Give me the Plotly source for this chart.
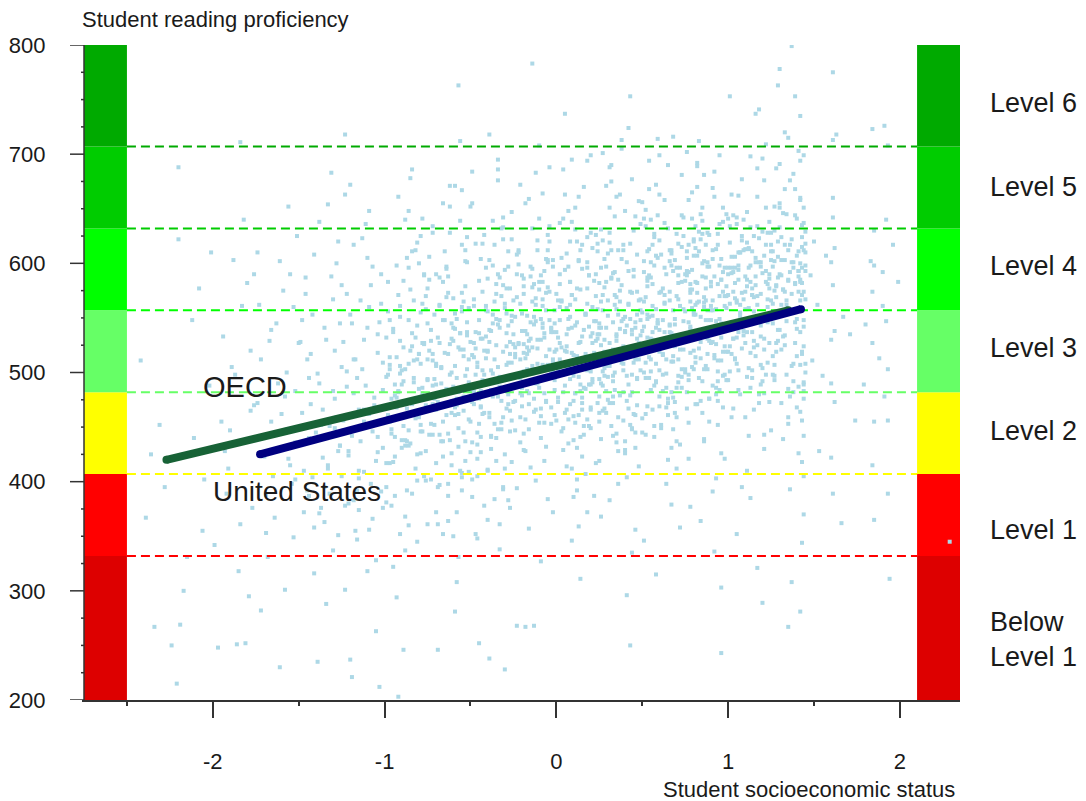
import plotly.graph_objects as go

# ---- Student scatter: socioeconomic status index vs reading score ----
ses = [
    -2.39, -2.34, -2.21, -2.24, -2.19, -2.20, -2.20, -2.42, -2.31, -2.12,
    -2.05, -2.15, -2.08, -2.28, -2.02, -2.11, -2.36, -2.06, -2.17, -2.01,
    -1.97, -1.86, -1.81, -1.84, -1.95, -1.78, -1.92, -1.88, -1.76, -1.99,
    -1.83, -1.91, -1.79, -1.87, -1.94, -1.77, -1.82, -1.90, -1.85, -1.80,
    -1.93, -1.78, -1.89, -1.84, -1.76,
    -1.61, -1.72, -1.66, -1.55, -1.69, -1.58, -1.74, -1.63, -1.52, -1.68,
    -1.57, -1.70, -1.64, -1.51, -1.73, -1.60, -1.54, -1.67, -1.59, -1.53,
    -1.71, -1.56, -1.62, -1.50, -1.65, -1.58, -1.74, -1.53, -1.69, -1.61,
    -1.55, -1.66, -1.52, -1.72, -1.57,
    -1.39, -1.45, -1.31, -1.48, -1.27, -1.42, -1.35, -1.29, -1.47, -1.33,
    -1.26, -1.44, -1.37, -1.30, -1.49, -1.41, -1.28, -1.36, -1.46, -1.32,
    -1.43, -1.34, -1.27, -1.40, -1.25, -1.38, -1.47, -1.30, -1.35, -1.42,
    -1.28, -1.46, -1.33, -1.39, -1.26, -1.44, -1.31, -1.37, -1.29, -1.48,
    -1.34, -1.41, -1.27, -1.45, -1.36, -1.30, -1.43, -1.25, -1.38, -1.32,
    -1.23, -1.23, -1.20, -1.19, -1.03, -1.05, -1.12, -1.17, -1.08, -1.22,
    -1.14, -1.01, -1.24, -1.10, -1.16, -1.06, -1.19, -1.02, -1.13, -1.21,
    -1.09, -1.18, -1.04, -1.15, -1.11, -1.24, -1.07, -1.20, -1.01, -1.13,
    -1.16, -1.05, -1.22, -1.10, -1.18, -1.03, -1.14, -1.08, -1.25, -1.12,
    -1.02, -1.19, -1.06, -1.23, -1.11, -1.15, -1.04, -1.21, -1.09, -1.17,
    -1.07, -1.13, -1.01, -1.20, -1.16, -1.10, -1.24, -1.05, -1.18, -1.12,
    -1.04, -1.22, -1.09, -1.15, -1.02,
    -0.92, -0.89, -0.84, -0.85, -0.97, -0.81, -0.93, -0.78, -0.88, -0.95,
    -0.76, -0.99, -0.83, -0.90, -0.79, -0.96, -0.86, -0.77, -0.94, -0.82,
    -0.98, -0.80, -0.87, -0.91, -0.75, -0.84, -0.96, -0.78, -0.89, -0.93,
    -0.81, -0.97, -0.85, -0.76, -0.92, -0.88, -0.79, -0.95, -0.83, -0.99,
    -0.86, -0.77, -0.94, -0.80, -0.90, -0.82, -0.98, -0.87, -0.76, -0.91,
    -0.84, -0.95, -0.78, -0.89, -0.81, -0.93, -0.86, -0.97, -0.79, -0.88,
    -0.83, -0.91, -0.77, -0.96, -0.85, -0.80, -0.94, -0.87, -0.75, -0.90,
    -0.82, -0.98, -0.88, -0.78, -0.92, -0.84, -0.99, -0.76, -0.86, -0.93,
    -0.69, -0.57, -0.56, -0.72, -0.61, -0.66, -0.53, -0.70, -0.58, -0.64,
    -0.51, -0.74, -0.62, -0.68, -0.55, -0.60, -0.73, -0.52, -0.67, -0.59,
    -0.54, -0.71, -0.63, -0.50, -0.65, -0.57, -0.74, -0.61, -0.53, -0.69,
    -0.58, -0.66, -0.52, -0.72, -0.60, -0.55, -0.68, -0.63, -0.51, -0.70,
    -0.64, -0.56, -0.73, -0.59, -0.50, -0.67, -0.62, -0.54, -0.71, -0.57,
    -0.61, -0.75, -0.53, -0.66, -0.58, -0.70, -0.52, -0.64, -0.55, -0.68,
    -0.60, -0.72, -0.56, -0.63, -0.51, -0.69, -0.59, -0.74, -0.54, -0.65,
    -0.57, -0.62, -0.68, -0.53, -0.71, -0.60, -0.66, -0.52, -0.58, -0.73,
    -0.55, -0.64, -0.50, -0.67, -0.61, -0.56, -0.70, -0.63, -0.54, -0.59,
    -0.45, -0.39, -0.30, -0.39, -0.47, -0.33, -0.42, -0.27, -0.36, -0.49,
    -0.28, -0.44, -0.35, -0.48, -0.31, -0.40, -0.26, -0.46, -0.34, -0.29,
    -0.41, -0.32, -0.47, -0.25, -0.38, -0.43, -0.30, -0.49, -0.35, -0.27,
    -0.44, -0.33, -0.40, -0.28, -0.46, -0.37, -0.31, -0.42, -0.26, -0.48,
    -0.36, -0.29, -0.45, -0.34, -0.41, -0.27, -0.39, -0.32, -0.47, -0.30,
    -0.43, -0.25, -0.38, -0.49, -0.35, -0.30, -0.44, -0.28, -0.40, -0.33,
    -0.37, -0.46, -0.31, -0.42, -0.26, -0.48, -0.34, -0.39, -0.29, -0.45,
    -0.32, -0.40, -0.27, -0.47, -0.36, -0.43, -0.28, -0.38, -0.50, -0.31,
    -0.41, -0.35, -0.46, -0.29, -0.44, -0.33, -0.26, -0.37, -0.42, -0.30,
    -0.34, -0.48, -0.27, -0.39, -0.45,
    -0.23, -0.18, -0.13, -0.14, -0.21, -0.06, -0.16, -0.02, -0.11, -0.24,
    -0.08, -0.19, -0.03, -0.14, -0.22, -0.09, -0.01, -0.17, -0.05, -0.12,
    -0.20, -0.07, -0.15, -0.25, -0.04, -0.10, -0.18, -0.02, -0.13, -0.23,
    -0.06, -0.16, -0.09, -0.21, -0.01, -0.12, -0.24, -0.04, -0.17, -0.08,
    -0.14, -0.03, -0.19, -0.11, -0.22, -0.05, -0.15, -0.07, -0.20, -0.10,
    -0.02, -0.18, -0.13, -0.25, -0.06, -0.09, -0.21, -0.04, -0.16, -0.11,
    -0.23, -0.08, -0.01, -0.14, -0.19, -0.03, -0.12, -0.24, -0.07, -0.17,
    -0.10, -0.05, -0.20, -0.15, -0.02, -0.22, -0.09, -0.13, -0.18, -0.06,
    -0.12, -0.21, -0.04, -0.16, -0.08, -0.24, -0.01, -0.11, -0.19, -0.03,
    -0.15, -0.07, -0.22, -0.10, -0.17, -0.05, -0.14, -0.20, -0.02, -0.09,
    0.03, 0.11, 0.18, 0.07, 0.22, 0.14, 0.01, 0.20, 0.09, 0.16,
    0.05, 0.24, 0.12, 0.02, 0.19, 0.08, 0.15, 0.23, 0.04, 0.10,
    0.17, 0.06, 0.21, 0.13, 0.00, 0.25, 0.09, 0.18, 0.03, 0.14,
    0.20, 0.11, 0.04, 0.22, 0.07, 0.16, 0.01, 0.24, 0.12, 0.08,
    0.15, 0.02, 0.19, 0.10, 0.23, 0.05, 0.13, 0.21, 0.06, 0.17,
    0.09, 0.25, 0.03, 0.14, 0.20, 0.11, 0.07, 0.18, 0.00, 0.22,
    0.12, 0.04, 0.16, 0.24, 0.08, 0.19, 0.02, 0.13, 0.21, 0.06,
    0.17, 0.10, 0.23, 0.01, 0.15, 0.05, 0.20, 0.09, 0.14, 0.03,
    0.22, 0.07, 0.18, 0.12, 0.25, 0.04, 0.16, 0.10, 0.19, 0.08,
    0.13, 0.21, 0.02, 0.17, 0.06, 0.23, 0.11, 0.15, 0.00, 0.20,
    0.05, 0.14, 0.24, 0.09, 0.18,
    0.43, 0.43, 0.42, 0.38, 0.31, 0.47, 0.27, 0.36, 0.44, 0.29,
    0.40, 0.26, 0.49, 0.33, 0.45, 0.28, 0.37, 0.48, 0.32, 0.41,
    0.35, 0.46, 0.30, 0.39, 0.27, 0.44, 0.34, 0.49, 0.26, 0.42,
    0.31, 0.38, 0.47, 0.28, 0.36, 0.43, 0.33, 0.40, 0.25, 0.45,
    0.29, 0.41, 0.34, 0.48, 0.26, 0.37, 0.46, 0.32, 0.39, 0.30,
    0.44, 0.27, 0.35, 0.49, 0.31, 0.42, 0.38, 0.28, 0.47, 0.33,
    0.40, 0.36, 0.45, 0.29, 0.43, 0.32, 0.48, 0.26, 0.39, 0.34,
    0.30, 0.47, 0.37, 0.25, 0.41, 0.35, 0.44, 0.28, 0.46, 0.31,
    0.38, 0.27, 0.42, 0.33, 0.49, 0.36, 0.29, 0.45, 0.32, 0.40,
    0.34, 0.48, 0.26, 0.43, 0.30, 0.39, 0.46, 0.37, 0.28, 0.44,
    0.31, 0.41, 0.35, 0.47, 0.27,
    0.68, 0.59, 0.53, 0.71, 0.62, 0.56, 0.74, 0.65, 0.51, 0.69,
    0.58, 0.64, 0.52, 0.73, 0.60, 0.55, 0.67, 0.70, 0.54, 0.63,
    0.57, 0.72, 0.61, 0.50, 0.66, 0.53, 0.75, 0.59, 0.64, 0.56,
    0.70, 0.52, 0.67, 0.58, 0.74, 0.62, 0.55, 0.69, 0.60, 0.51,
    0.65, 0.57, 0.72, 0.54, 0.63, 0.68, 0.50, 0.61, 0.73, 0.56,
    0.59, 0.66, 0.53, 0.71, 0.60, 0.75, 0.64, 0.52, 0.69, 0.58,
    0.62, 0.55, 0.73, 0.57, 0.67, 0.51, 0.70, 0.63, 0.54, 0.74,
    0.56, 0.68, 0.60, 0.65, 0.53, 0.72, 0.58, 0.66, 0.50, 0.61,
    0.64, 0.52, 0.71, 0.57, 0.69, 0.55, 0.74, 0.62, 0.59, 0.67,
    0.54, 0.63, 0.70, 0.56, 0.60, 0.73, 0.51, 0.66, 0.58, 0.68,
    0.61, 0.53, 0.72, 0.65, 0.57,
    0.96, 0.78, 0.84, 0.91, 0.77, 0.88, 0.95, 0.81, 0.99, 0.86,
    0.93, 0.76, 0.89, 0.82, 0.97, 0.79, 0.85, 0.92, 0.80, 0.98,
    0.87, 0.94, 0.78, 0.83, 0.90, 0.76, 0.96, 0.81, 0.88, 0.84,
    0.91, 0.79, 0.99, 0.85, 0.77, 0.93, 0.82, 0.97, 0.80, 0.89,
    0.86, 0.95, 0.78, 0.92, 0.83, 0.98, 0.76, 0.87, 0.94, 0.81,
    0.90, 0.84, 0.97, 0.79, 0.88, 0.93, 0.82, 0.96, 0.77, 0.85,
    0.99, 0.80, 0.91, 0.86, 0.78, 0.95, 0.83, 0.89, 0.76, 0.92,
    0.87, 0.94, 0.81, 0.98, 0.84, 0.90, 0.77, 0.96, 0.82, 0.88,
    0.93, 0.79, 0.85, 0.97, 0.80, 0.91, 0.86, 0.99, 0.78, 0.94,
    0.83, 0.89, 0.76, 0.92, 0.87, 0.95, 0.81, 0.98, 0.84, 0.90,
    0.88, 0.82, 0.96, 0.79, 0.93,
    1.01, 1.18, 1.16, 1.20, 1.07, 1.13, 1.03, 1.22, 1.10, 1.05,
    1.15, 1.24, 1.08, 1.02, 1.19, 1.11, 1.06, 1.23, 1.14, 1.09,
    1.04, 1.21, 1.12, 1.17, 1.00, 1.25, 1.09, 1.14, 1.06, 1.19,
    1.23, 1.07, 1.16, 1.02, 1.11, 1.20, 1.05, 1.13, 1.24, 1.08,
    1.18, 1.01, 1.10, 1.22, 1.15, 1.03, 1.12, 1.21, 1.06, 1.17,
    1.09, 1.24, 1.04, 1.14, 1.19, 1.07, 1.11, 1.23, 1.00, 1.16,
    1.13, 1.05, 1.20, 1.08, 1.25, 1.02, 1.18, 1.10, 1.15, 1.22,
    1.06, 1.12, 1.24, 1.01, 1.17, 1.09, 1.21, 1.04, 1.14, 1.19,
    1.11, 1.23, 1.03, 1.16, 1.07, 1.20, 1.13, 1.00, 1.18, 1.10,
    1.05, 1.15, 1.22, 1.08, 1.12, 1.25, 1.02, 1.17, 1.14, 1.06,
    1.37, 1.30, 1.29, 1.39, 1.35, 1.42, 1.27, 1.44, 1.33, 1.40,
    1.26, 1.43, 1.31, 1.38, 1.28, 1.45, 1.34, 1.41, 1.32, 1.44,
    1.36, 1.29, 1.42, 1.27, 1.39, 1.44, 1.33, 1.30, 1.43, 1.37,
    1.25, 1.40, 1.35, 1.43, 1.28, 1.41, 1.32, 1.45, 1.38, 1.26,
    1.42, 1.34, 1.44, 1.31, 1.39, 1.27, 1.43, 1.36, 1.29, 1.45,
    1.33, 1.41, 1.37, 1.44, 1.26, 1.40, 1.30, 1.43, 1.35, 1.42,
    1.28, 1.38, 1.45, 1.32, 1.44, 1.34, 1.41, 1.27, 1.43, 1.39,
    1.36, 1.42, 1.29, 1.44, 1.31, 1.40, 1.45, 1.33, 1.43, 1.37,
    1.41, 1.26, 1.44, 1.35, 1.42,
    1.61, 1.63, 1.61, 1.52, 1.61, 1.60, 1.48, 1.62, 1.55, 1.61,
    1.50, 1.60, 1.67, 1.62, 1.53, 1.61, 1.71, 1.60, 1.49, 1.62,
    1.57, 1.61, 1.74, 1.60, 1.66,
    1.84, 1.91, 1.93, 1.94, 1.85, 1.90, 1.84, 1.92, 1.79, 1.85,
    1.90, 1.93, 1.84, 1.96, 1.91, 1.85, 1.80, 1.93, 1.88, 1.84,
    1.92, 1.85, 1.99, 1.93, 1.83,
    2.29,
]

score = [
    367, 267, 215, 250, 269, 688, 622, 511, 452, 548,
    402, 331, 577, 395, 488, 440, 425, 355, 300, 610,
    248, 251, 252, 711, 455, 520, 389, 603, 470, 342,
    561, 412, 295, 498, 533, 376, 640, 447, 318, 582,
    428, 465, 505, 361, 590,
    230, 512, 455, 590, 388, 478, 610, 545, 436, 331,
    500, 423, 367, 625, 562, 462, 398, 529, 575, 349,
    441, 652, 490, 527, 405, 301, 472, 560, 353, 602,
    415, 539, 483, 282, 448,
    235, 512, 588, 463, 620, 404, 541, 476, 372, 654,
    433, 495, 452, 567, 528, 316, 600, 422, 587, 389,
    471, 530, 351, 445, 505, 638, 410, 483, 363, 553,
    459, 572, 415, 499, 545, 440, 683, 376, 520, 548,
    288, 608, 428, 392, 466, 337, 517, 580, 490, 451,
    718, 663, 237, 221, 212, 263, 455, 512, 398, 487,
    566, 431, 528, 605, 347, 470, 442, 590, 503, 380,
    462, 617, 535, 410, 488, 456, 366, 553, 509, 623,
    495, 419, 572, 318, 481, 546, 437, 580, 405, 530,
    391, 545, 477, 301, 636, 466, 518, 424, 560, 355,
    597, 450, 484, 672, 392, 541, 447, 328, 512, 466,
    427, 501, 648, 374, 563,
    203, 246, 686, 678, 455, 512, 598, 481, 433, 540,
    470, 395, 566, 502, 625, 448, 360, 527, 489, 412,
    583, 459, 437, 551, 494, 611, 378, 446, 523, 468,
    345, 507, 576, 428, 483, 640, 555, 418, 495, 532,
    462, 589, 387, 517, 438, 474, 556, 605, 401, 499,
    536, 322, 466, 584, 425, 477, 648, 514, 452, 368,
    491, 561, 405, 444, 520, 600, 479, 392, 545, 431,
    458, 498, 337, 527, 661, 472, 417, 570, 508, 294,
    246, 763, 712, 488, 531, 455, 602, 417, 470, 569,
    512, 443, 498, 587, 392, 541, 479, 624, 437, 506,
    465, 553, 387, 528, 611, 449, 520, 474, 579, 361,
    495, 423, 546, 634, 482, 408, 561, 517, 457, 489,
    595, 536, 402, 468, 652, 504, 438, 565, 476, 331,
    426, 512, 484, 548, 372, 590, 503, 461, 617, 443,
    529, 471, 410, 573, 491, 395, 554, 606, 445, 518,
    462, 671, 527, 419, 494, 350, 583, 537, 308, 453,
    560, 485, 427, 471, 545, 639, 508, 398, 521, 281,
    252, 238, 228, 718, 498, 541, 463, 577, 512, 436,
    480, 604, 525, 471, 393, 556, 509, 421, 590, 467,
    533, 454, 618, 497, 442, 574, 486, 402, 549, 528,
    469, 587, 411, 543, 505, 478, 633, 520, 456, 561,
    384, 507, 548, 448, 596, 517, 463, 570, 489, 425,
    531, 473, 502, 655, 440, 559, 483, 611, 365, 496,
    545, 434, 580, 490, 418, 527, 676, 459, 536, 584,
    474, 519, 446, 352, 565, 502, 597, 430, 484, 642,
    557, 491, 405, 524, 468, 338, 552, 499, 626, 412,
    695, 514, 376, 539, 453,
    268, 267, 268, 783, 512, 557, 481, 603, 530, 447,
    494, 586, 468, 523, 612, 440, 545, 503, 578, 466,
    538, 419, 597, 488, 521, 641, 457, 509, 551, 394,
    473, 529, 589, 436, 498, 562, 517, 620, 483, 545,
    506, 453, 572, 490, 527, 601, 413, 536, 469, 583,
    512, 655, 476, 566, 432, 549, 495, 574, 448, 522,
    590, 507, 461, 632, 518, 541, 401, 474, 593, 535,
    486, 626, 554, 500, 372, 610, 460, 581, 428, 515,
    547, 481, 688, 357, 567, 523, 493, 612, 444, 499,
    531, 454, 599, 708, 517, 384, 565, 479, 537, 327,
    523, 481, 596, 457, 547, 612, 502, 466, 571, 539,
    488, 618, 431, 560, 509, 583, 472, 529, 641, 497,
    553, 414, 491, 602, 537, 463, 518, 577, 446, 505,
    628, 543, 482, 509, 597, 451, 566, 535, 392, 620,
    477, 512, 589, 438, 547, 663, 496, 560, 524, 407,
    571, 494, 605, 528, 468, 651, 540, 502, 456, 584,
    515, 686, 443, 531, 562, 489, 581, 461, 614, 535,
    554, 386, 507, 473, 595, 520, 449, 638, 483, 566,
    506, 549, 372, 577, 541, 429, 670, 516, 589, 471,
    359, 527, 590, 485, 609, 570, 454, 533, 521, 699,
    737, 311, 558, 346, 624,
    250, 753, 724, 713, 527, 574, 488, 612, 539, 463,
    551, 596, 502, 442, 630, 515, 479, 566, 587, 497,
    535, 461, 609, 524, 571, 482, 643, 548, 439, 593,
    506, 580, 531, 467, 553, 618, 492, 429, 545, 509,
    597, 474, 562, 414, 525, 663, 541, 586, 456, 519,
    573, 501, 436, 557, 628, 489, 520, 604, 470, 546,
    537, 398, 588, 541, 452, 675, 512, 565, 617, 484,
    552, 495, 575, 478, 601, 529, 448, 530, 643, 383,
    509, 621, 563, 497, 534, 459, 583, 522, 690, 426,
    592, 517, 368, 549, 475, 612, 356, 540, 504, 335,
    651, 296, 569, 608, 701,
    716, 714, 532, 589, 498, 617, 547, 472, 565, 603,
    541, 512, 634, 486, 573, 522, 598, 459, 551, 637,
    488, 561, 526, 445, 612, 579, 503, 644, 468, 537,
    596, 509, 431, 558, 625, 483, 601, 544, 519, 592,
    476, 627, 531, 495, 564, 510, 656, 449, 583, 552,
    605, 537, 469, 618, 502, 556, 590, 527, 463, 672,
    548, 587, 496, 524, 609, 542, 437, 571, 613, 521,
    581, 515, 663, 420, 553, 596, 492, 574, 538, 608,
    398, 649, 567, 451, 534, 501, 642, 517, 545, 379,
    694, 563, 412, 530, 478, 681, 346, 602, 315, 557,
    529, 584, 358, 690, 441,
    243, 573, 528, 612, 498, 557, 636, 583, 519, 602,
    547, 611, 476, 564, 592, 535, 651, 513, 622, 570,
    587, 492, 540, 629, 561, 482, 604, 553, 517, 645,
    528, 594, 570, 463, 617, 541, 582, 497, 556, 626,
    503, 598, 576, 661, 539, 524, 593, 566, 452, 614,
    579, 551, 638, 505, 597, 486, 573, 532, 658, 588,
    559, 520, 604, 439, 581, 570, 495, 548, 533, 684,
    617, 511, 562, 596, 474, 548, 421, 585, 670, 538,
    403, 559, 627, 468, 607, 391, 564, 645, 377, 581,
    712, 455, 589, 336, 577, 699, 514, 421, 364, 527,
    601, 692, 303, 641, 558,
    753, 741, 737, 289, 562, 598, 531, 617, 574, 508,
    549, 586, 625, 591, 533, 647, 502, 567, 611, 545,
    582, 521, 559, 634, 493, 603, 538, 571, 662, 597,
    546, 610, 588, 517, 579, 629, 564, 486, 552, 573,
    601, 563, 527, 593, 556, 644, 613, 481, 585, 525,
    567, 638, 596, 537, 572, 480, 619, 560, 590, 549,
    583, 532, 504, 677, 566, 606, 548, 459, 625, 651,
    594, 442, 577, 524, 687, 612, 430, 568, 502, 543,
    410, 581, 467, 601, 555, 696, 385, 641, 472, 588,
    352, 529, 709, 395, 614, 447, 663, 321, 571, 610,
    799, 778, 763, 753, 267, 585, 553, 612, 534, 641,
    597, 571, 624, 508, 580, 629, 562, 593, 646, 548,
    617, 539, 660, 575, 527, 489, 603, 651, 596, 572,
    611, 557, 584, 635, 519, 611, 576, 567, 682, 545,
    600, 498, 542, 589, 668, 630, 517, 555, 606, 593,
    574, 703, 622, 476, 563, 540, 691, 582, 453, 658,
    527, 601, 618, 439, 699, 566, 487, 652, 418, 582,
    393, 735, 587, 370, 472, 549, 508, 720, 344, 308,
    426, 498, 405, 715, 281,
    775, 718, 713, 562, 642, 601, 589, 538, 497, 580,
    620, 490, 551, 473, 428, 660, 535, 422, 511, 614,
    607, 389, 456, 530, 362,
    723, 726, 708, 311, 598, 561, 527, 640, 489, 455,
    592, 503, 574, 617, 478, 630, 544, 389, 513, 415,
    547, 365, 583, 456, 602,
    345,
]

# ---- Additional students in the dense middle of the distribution ----
ses_core = [
    -0.97, -0.83, -0.91, -0.78, -0.86, -0.94, -0.80, -0.88, -0.76, -0.99,
    -0.85, -0.92, -0.79, -0.96, -0.82, -0.89, -0.77, -0.93, -0.87, -0.81,
    -0.90, -0.84, -0.98, -0.75, -0.88, -0.95, -0.79, -0.86, -0.92, -0.83,
    -0.77, -0.94, -0.81, -0.89, -0.97, -0.84, -0.91, -0.78, -0.86, -0.80,
    -0.72, -0.58, -0.65, -0.53, -0.69, -0.61, -0.74, -0.56, -0.67, -0.51,
    -0.63, -0.70, -0.55, -0.60, -0.73, -0.52, -0.66, -0.59, -0.71, -0.54,
    -0.68, -0.57, -0.62, -0.50, -0.64, -0.75, -0.56, -0.69, -0.53, -0.61,
    -0.58, -0.66, -0.72, -0.54, -0.60, -0.67, -0.52, -0.63, -0.70, -0.57,
    -0.65, -0.55, -0.73, -0.59, -0.62,
    -0.47, -0.33, -0.41, -0.28, -0.38, -0.45, -0.30, -0.36, -0.49, -0.26,
    -0.42, -0.35, -0.27, -0.44, -0.31, -0.39, -0.48, -0.34, -0.29, -0.43,
    -0.37, -0.46, -0.32, -0.40, -0.25, -0.43, -0.36, -0.28, -0.47, -0.34,
    -0.30, -0.44, -0.39, -0.27, -0.35, -0.41, -0.49, -0.33, -0.26, -0.38,
    -0.45, -0.31, -0.37, -0.42, -0.29, -0.48, -0.34, -0.40, -0.32, -0.46,
    -0.22, -0.08, -0.16, -0.03, -0.19, -0.11, -0.24, -0.06, -0.14, -0.01,
    -0.13, -0.20, -0.05, -0.17, -0.09, -0.23, -0.02, -0.15, -0.07, -0.21,
    -0.10, -0.18, -0.04, -0.12, -0.25, -0.06, -0.16, -0.01, -0.19, -0.08,
    -0.14, -0.03, -0.21, -0.11, -0.07, -0.17, -0.24, -0.02, -0.13, -0.09,
    -0.20, -0.05, -0.15, -0.12, -0.22, -0.04, -0.18, -0.10, -0.06, -0.16,
    -0.01, -0.23, -0.08, -0.14, -0.19,
    0.02, 0.15, 0.08, 0.21, 0.11, 0.04, 0.18, 0.13, 0.06, 0.23,
    0.10, 0.17, 0.01, 0.24, 0.07, 0.14, 0.20, 0.03, 0.12, 0.19,
    0.05, 0.22, 0.09, 0.16, 0.00, 0.13, 0.25, 0.06, 0.18, 0.11,
    0.20, 0.04, 0.15, 0.08, 0.23, 0.01, 0.12, 0.17, 0.10, 0.21,
    0.07, 0.14, 0.02, 0.19, 0.24, 0.09, 0.16, 0.05, 0.22, 0.12,
    0.18, 0.03, 0.11, 0.25, 0.06, 0.14, 0.20, 0.08, 0.15, 0.00,
    0.27, 0.41, 0.33, 0.46, 0.30, 0.38, 0.49, 0.35, 0.28, 0.44,
    0.36, 0.26, 0.42, 0.31, 0.48, 0.39, 0.29, 0.45, 0.34, 0.40,
    0.32, 0.47, 0.37, 0.25, 0.43, 0.28, 0.35, 0.49, 0.41, 0.30,
    0.44, 0.33, 0.27, 0.39, 0.46, 0.31, 0.38, 0.26, 0.42, 0.36,
    0.29, 0.45, 0.34, 0.40, 0.48, 0.32, 0.43, 0.37, 0.27, 0.47,
    0.35, 0.28, 0.42, 0.30, 0.39, 0.44, 0.25, 0.33, 0.46, 0.41,
    0.52, 0.66, 0.58, 0.71, 0.55, 0.63, 0.74, 0.60, 0.53, 0.69,
    0.61, 0.51, 0.67, 0.56, 0.73, 0.64, 0.54, 0.70, 0.59, 0.65,
    0.57, 0.72, 0.62, 0.50, 0.68, 0.53, 0.60, 0.75, 0.66, 0.55,
    0.69, 0.58, 0.52, 0.64, 0.71, 0.56, 0.63, 0.51, 0.67, 0.61,
    0.54, 0.70, 0.59, 0.65, 0.73, 0.57, 0.68, 0.62, 0.52, 0.72,
    0.60, 0.53, 0.67, 0.55, 0.64, 0.69, 0.50, 0.58, 0.71, 0.66,
    0.77, 0.91, 0.83, 0.96, 0.80, 0.88, 0.99, 0.85, 0.78, 0.94,
    0.86, 0.76, 0.92, 0.81, 0.98, 0.89, 0.79, 0.95, 0.84, 0.90,
    0.82, 0.97, 0.87, 0.75, 0.93, 0.78, 0.85, 1.00, 0.91, 0.80,
    0.94, 0.83, 0.77, 0.89, 0.96, 0.81, 0.88, 0.76, 0.92, 0.86,
    0.79, 0.95, 0.84, 0.90, 0.98, 0.82, 0.93, 0.87, 0.77, 0.97,
    0.85, 0.78, 0.92, 0.80, 0.89, 0.94, 0.75, 0.83, 0.96, 0.91,
    1.02, 1.16, 1.08, 1.21, 1.05, 1.13, 1.24, 1.10, 1.03, 1.19,
    1.11, 1.01, 1.17, 1.06, 1.23, 1.14, 1.04, 1.20, 1.09, 1.15,
    1.07, 1.22, 1.12, 1.00, 1.18, 1.03, 1.10, 1.25, 1.16, 1.05,
    1.19, 1.08, 1.02, 1.14, 1.21, 1.06, 1.13, 1.01, 1.17, 1.11,
    1.04, 1.20, 1.09, 1.15, 1.23, 1.07, 1.18, 1.12, 1.24, 1.00,
    1.10, 1.03, 1.16, 1.22, 1.06,
    1.27, 1.41, 1.33, 1.44, 1.30, 1.38, 1.45, 1.35, 1.28, 1.43,
    1.36, 1.26, 1.42, 1.31, 1.44, 1.39, 1.29, 1.45, 1.34, 1.40,
    1.32, 1.43, 1.37, 1.25, 1.41, 1.28, 1.35, 1.44, 1.42, 1.30,
    1.44, 1.33, 1.27, 1.39, 1.43, 1.31, 1.38, 1.26, 1.42, 1.36,
    1.29, 1.45, 1.34, 1.40, 1.43, 1.32, 1.41, 1.37, 1.27, 1.44,
    1.35, 1.28, 1.42, 1.30, 1.44,
    -1.52, -1.38, -1.21, -1.09, -0.97, -0.84, -0.72, -0.63, -0.51, -0.42,
    -1.47, -1.33, -1.18, -1.04, -0.91, -0.79, -0.68, -0.57, -0.46, -0.35,
    -1.44, -1.29, -1.15, -1.01, -0.88, -0.75, -0.61, -0.49, -0.38, -0.31,
    -1.56, -1.41, -1.26, -1.12, -0.99, -0.86, -0.70, -0.55, -0.44, -0.33,
    -1.35, -1.23, -1.07, -0.94, -0.81, -0.66, -0.53, -0.40, -0.28, -0.19,
    -0.78, -0.55, -0.31, -0.12, 0.07, 0.26, 0.44, 0.63, 0.82, 1.05,
    -0.66, -0.43, -0.21, 0.02, 0.18, 0.35, 0.57, 0.76, 0.97, 1.21,
    -0.72, -0.49, -0.26, -0.05, 0.13, 0.31, 0.51, 0.70, 0.91, 1.13,
    -0.59, -0.37, -0.16, 0.09, 0.23, 0.40, 0.60, 0.79, 1.01, 1.28,
    -0.82, -0.62, -0.34, -0.08, 0.15, 0.38, 0.54, 0.73, 0.94, 1.17,
    1.33, 1.39, 1.42, 1.36, 1.30, 0.86, 0.67, 0.48, 0.29, 0.11,
    0.33, 0.52, 0.71, 0.88, 1.04, 1.19, 1.31, 1.42, 0.46, 0.64,
    0.81, 0.99, 1.15, 1.27, 1.38, 0.39, 0.58, 0.77, 0.93, 1.11,
    1.24, 1.35, 1.44, 0.68, 0.86, 1.02, 1.21, 1.40, 0.55, 0.96,
]

score_core = [
    503, 462, 529, 486, 548, 441, 517, 473, 558, 496,
    435, 571, 508, 476, 532, 451, 590, 514, 467, 543,
    489, 524, 461, 577, 503, 537, 446, 596, 482, 511,
    526, 457, 619, 492, 548, 471, 506, 563, 433, 485,
    511, 476, 548, 497, 532, 463, 585, 521, 490, 559,
    444, 506, 573, 487, 529, 601, 469, 540, 452, 515,
    562, 482, 526, 455, 597, 493, 536, 473, 612, 500,
    549, 437, 517, 478, 568, 505, 534, 588, 466, 523,
    481, 556, 539, 461, 628,
    522, 487, 561, 509, 538, 476, 594, 453, 516, 547,
    498, 572, 465, 531, 519, 603, 483, 544, 577, 462,
    553, 509, 448, 586, 526, 493, 617, 471, 537, 505,
    563, 441, 528, 495, 581, 513, 473, 548, 622, 484,
    536, 459, 598, 491, 554, 567, 478, 520, 632, 445,
    526, 561, 492, 537, 579, 508, 551, 474, 595, 519,
    544, 486, 612, 523, 467, 569, 501, 588, 532, 459,
    576, 513, 548, 490, 535, 604, 471, 557, 526, 583,
    499, 540, 563, 621, 481, 552, 514, 597, 464, 530,
    589, 507, 546, 568, 497, 634, 538, 454, 573, 520,
    484, 608, 541, 578, 501,
    548, 512, 583, 536, 567, 498, 601, 527, 559, 590,
    474, 553, 532, 611, 506, 576, 489, 565, 620, 542,
    594, 518, 541, 486, 572, 603, 535, 519, 563, 508,
    501, 449, 466, 551, 417, 477, 402, 517, 460, 494,
    435, 489, 527, 451, 472, 412, 505, 463, 387, 546,
    457, 499, 481, 419, 466, 441, 533, 494, 423, 508,
    557, 522, 591, 546, 513, 604, 567, 533, 578, 498,
    585, 541, 562, 619, 527, 549, 506, 594, 571, 538,
    612, 553, 519, 582, 574, 497, 558, 636, 543, 566,
    449, 521, 465, 508, 431, 472, 547, 490, 516, 428,
    483, 462, 500, 437, 525, 451, 479, 565, 509, 494,
    444, 519, 467, 496, 482, 535, 455, 472, 512, 404,
    569, 544, 607, 582, 531, 596, 558, 621, 587, 549,
    574, 602, 536, 561, 615, 527, 589, 570, 548, 632,
    598, 521, 577, 555, 593, 611, 539, 584, 566, 640,
    473, 508, 443, 525, 491, 466, 537, 500, 482, 452,
    514, 486, 545, 461, 503, 529, 477, 516, 495, 434,
    469, 549, 510, 484, 499, 524, 458, 491, 512, 543,
    592, 566, 611, 585, 553, 628, 579, 600, 542, 617,
    569, 605, 588, 634, 561, 597, 576, 549, 622, 583,
    607, 574, 548, 590, 613, 565, 639, 596, 557, 620,
    501, 522, 493, 476, 545, 509, 531, 467, 516, 560,
    535, 484, 513, 557, 498, 471, 526, 506, 546, 519,
    492, 518, 539, 503, 529, 474, 500, 565, 511, 488,
    596, 580, 621, 607, 566, 633, 590, 613, 574, 601,
    585, 619, 562, 598, 628, 577, 606, 591, 640, 569,
    610, 583, 596, 571, 623, 592, 558, 617, 605, 636,
    507, 522, 546, 495, 531, 484, 518, 501, 570, 537,
    513, 492, 534, 523, 509, 552, 480, 504, 527, 519,
    546, 531, 515, 498, 537,
    602, 588, 617, 574, 633, 596, 610, 585, 579, 624,
    592, 611, 566, 603, 637, 581, 620, 598, 645, 607,
    576, 615, 601, 628, 593, 569, 612, 651, 583, 590,
    483, 525, 507, 546, 519, 562, 492, 515, 537, 478,
    529, 500, 547, 515, 456, 533, 574, 506, 493, 524,
    485, 552, 464, 539, 442,
    402, 371, 428, 356, 417, 389, 443, 364, 409, 378,
    436, 412, 383, 441, 352, 426, 397, 432, 348, 419,
    387, 449, 403, 376, 438, 361, 415, 386, 441, 395,
    421, 358, 433, 409, 381, 447, 372, 404, 427, 361,
    395, 378, 446, 423, 401, 352, 437, 410, 383, 429,
    641, 667, 622, 683, 648, 631, 677, 658, 689, 642,
    655, 618, 672, 637, 694, 661, 624, 702, 651, 676,
    628, 684, 647, 603, 661, 688, 641, 627, 669, 698,
    671, 639, 659, 695, 626, 648, 699, 665, 634, 687,
    612, 652, 686, 664, 617, 705, 668, 644, 627, 661,
    668, 644, 694, 676, 655, 681, 612, 657, 671, 631,
    478, 462, 497, 503, 512, 489, 521, 507, 445, 486,
    471, 493, 466, 497, 482, 502, 521, 454, 480, 496,
    473, 459, 491, 448, 437, 459, 443, 468, 512, 426,
]

# ---- Proficiency levels (lower bound of each band) ----
level_names = ["Below<br>Level 1", "Level 1", "Level 2", "Level 3",
               "Level 4", "Level 5", "Level 6"]
level_lower = [200, 332, 407, 482, 557, 632, 707]
level_upper = [332, 407, 482, 557, 632, 707, 800]
level_colors = ["#DD0000", "#FF0000", "#FFFF00", "#66FF66",
                "#00FF00", "#00CC00", "#00AA00"]
level_label_y = [255, 356, 446, 522, 598, 670, 747]

# ---- Regression lines (SES index, reading score at the two ends) ----
oecd_x = [-2.27, 1.35]
oecd_y = [420, 557]
us_x = [-1.725, 1.424]
us_y = [425, 558]

x_range = [-2.75, 2.35]
y_range = [200, 800]
left_band = [-2.75, -2.5]
right_band = [2.1, 2.35]

y_ticks = [200, 300, 400, 500, 600, 700, 800]
y_minor = [225, 250, 275, 325, 350, 375, 425, 450, 475,
           525, 550, 575, 625, 650, 675, 725, 750, 775]
x_ticks = [-2, -1, 0, 1, 2]
x_minor = [-2.5, -1.5, -0.5, 0.5, 1.5]

FONT = "Arial, 'Liberation Sans', sans-serif"
TXT = "#1a1a1a"
AX = "#333333"
CLEAR = "rgba(0,0,0,0)"
PAD = "\u00a0" * 3

# plot-area size in pixels, used to give the vertical-axis ticks a pixel length
PLOT_W = 1086 - 84 - 126

fig = go.Figure()

# colour bands on both sides
shapes = []
for lo, hi, col in zip(level_lower, level_upper, level_colors):
    for x0, x1 in (left_band, right_band):
        shapes.append(dict(type="rect", xref="x", yref="y", x0=x0, x1=x1,
                           y0=lo, y1=hi, fillcolor=col, line=dict(width=0),
                           layer="below"))

# vertical axis line and its tick marks, flush with the plot's left edge
shapes.append(dict(type="line", xref="paper", yref="y", x0=0, x1=0,
                   y0=y_range[0], y1=y_range[1],
                   line=dict(color=AX, width=1.5), layer="above"))
for v in y_ticks:
    shapes.append(dict(type="line", xref="paper", yref="y",
                       x0=-14 / PLOT_W, x1=0, y0=v, y1=v,
                       line=dict(color=AX, width=1.5), layer="above"))
for v in y_minor:
    shapes.append(dict(type="line", xref="paper", yref="y",
                       x0=-3 / PLOT_W, x1=0, y0=v, y1=v,
                       line=dict(color=AX, width=1.5), layer="above"))

fig.add_trace(go.Scatter(
    x=ses + ses_core, y=score + score_core, mode="markers",
    marker=dict(symbol="square", size=4, color="#ADD8E6",
                line=dict(width=0)),
    hoverinfo="skip", showlegend=False))

# dashed level boundaries
for lo, col in zip(level_lower[1:], level_colors[1:]):
    fig.add_trace(go.Scatter(
        x=[left_band[1], right_band[0]], y=[lo, lo], mode="lines",
        line=dict(color=col, width=2, dash="9px,5px"),
        hoverinfo="skip", showlegend=False))

fig.add_trace(go.Scatter(
    x=oecd_x, y=oecd_y, mode="lines+markers",
    line=dict(color="#176236", width=8),
    marker=dict(size=8, color="#176236"),
    hoverinfo="skip", showlegend=False))
fig.add_trace(go.Scatter(
    x=us_x, y=us_y, mode="lines+markers",
    line=dict(color="#000080", width=8),
    marker=dict(size=8, color="#000080"),
    hoverinfo="skip", showlegend=False))

annotations = []
for name, ly in zip(level_names, level_label_y):
    annotations.append(dict(
        text=name, xref="paper", yref="y", x=1.032, y=ly,
        xanchor="left", yanchor="middle", align="left", showarrow=False,
        font=dict(family=FONT, size=27, color=TXT)))

annotations += [
    dict(text="OECD", xref="x", yref="y", x=-2.07, y=487,
         xanchor="left", yanchor="middle", showarrow=False,
         font=dict(family=FONT, size=29, color=TXT)),
    dict(text="United States", xref="x", yref="y", x=-2.01, y=391,
         xanchor="left", yanchor="middle", showarrow=False,
         font=dict(family=FONT, size=28, color=TXT)),
    dict(text="Student reading proficiency", xref="paper", yref="paper",
         x=-0.004, y=1.039, xanchor="left", yanchor="middle",
         showarrow=False, font=dict(family=FONT, size=22, color=TXT)),
    dict(text="Student socioeconomic status", xref="paper", yref="paper",
         x=0.997, y=-0.137, xanchor="right", yanchor="middle",
         showarrow=False, font=dict(family=FONT, size=22, color=TXT)),
]

fig.update_layout(
    template="none",
    width=1086, height=801,
    margin=dict(l=84, r=126, t=45, b=101, pad=0),
    paper_bgcolor="white", plot_bgcolor="white",
    shapes=shapes, annotations=annotations,
    showlegend=False,
    xaxis=dict(
        range=x_range, showgrid=False, zeroline=False, automargin=False,
        showline=True, linecolor=AX, linewidth=1.5,
        ticks="outside", ticklen=16, tickwidth=1.5, tickcolor=AX,
        tickvals=x_ticks, ticktext=[str(v) for v in x_ticks],
        tickfont=dict(family=FONT, size=22, color=TXT),
        ticklabelstandoff=25,
        minor=dict(ticks="outside", ticklen=4, tickwidth=1.5, tickcolor=AX,
                   tickvals=x_minor, showgrid=False),
    ),
    yaxis=dict(
        range=y_range, showgrid=False, zeroline=False, automargin=False,
        showline=True, linecolor=CLEAR, linewidth=1.5,
        ticks="outside", ticklen=14, tickwidth=1.5, tickcolor=CLEAR,
        tickvals=y_ticks, ticktext=[str(v) + PAD for v in y_ticks],
        tickfont=dict(family=FONT, size=22, color=TXT),
        minor=dict(ticks="outside", ticklen=3, tickwidth=1.5,
                   tickcolor=CLEAR, dtick=25, showgrid=False),
    ),
)

assert len(ses) == len(score)
assert len(ses_core) == len(score_core)
fig.write_html("out.html")
